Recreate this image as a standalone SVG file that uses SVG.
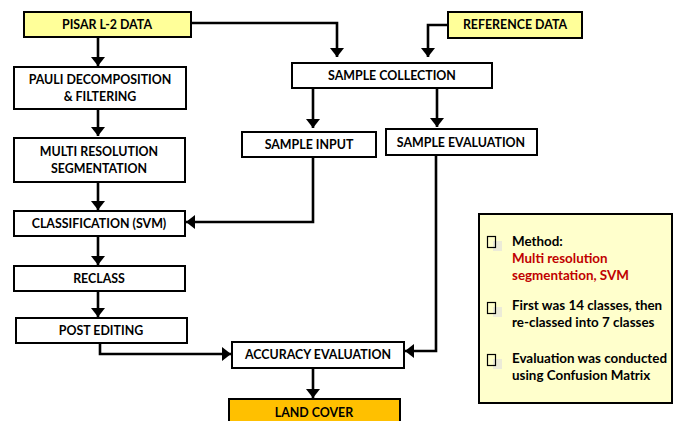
<svg xmlns="http://www.w3.org/2000/svg" width="684" height="421" viewBox="0 0 684 421">
<style>
.box{fill:#fff;stroke:#000;stroke-width:2}
.yel{fill:#ffff99}
.org{fill:#ffc000}
.t{font-family:Lato,"Liberation Sans",sans-serif;font-weight:bold;font-size:12.4px;fill:#000;text-anchor:middle}
.c{fill:none;stroke:#000;stroke-width:2.6}
.lg{font-family:Lato,"Liberation Sans",sans-serif;font-weight:bold;font-size:13.4px;fill:#000}
.red{fill:#c00000}
.bul{fill:none;stroke:#000;stroke-width:1.2}
.sh{fill:#ecebd8}
</style>
<defs>
<marker id="ah" viewBox="0 0 9 14" refX="9" refY="7" markerWidth="9" markerHeight="14" markerUnits="userSpaceOnUse" orient="auto">
<path d="M0,0 L9,7 L0,14 Z" fill="#000"/>
</marker>
</defs>
<rect width="684" height="421" fill="#fff"/>
<g id="connectors">
<path class="c" d="M98,37 V66" marker-end="url(#ah)"/>
<path class="c" d="M98,109 V136" marker-end="url(#ah)"/>
<path class="c" d="M98,182 V210" marker-end="url(#ah)"/>
<path class="c" d="M98,236 V265" marker-end="url(#ah)"/>
<path class="c" d="M98,291 V317" marker-end="url(#ah)"/>
<path class="c" d="M191,23 H337 V57" marker-end="url(#ah)"/>
<path class="c" d="M448,25 H428 V57" marker-end="url(#ah)"/>
<path class="c" d="M313,88 V128" marker-end="url(#ah)"/>
<path class="c" d="M437,88 V127" marker-end="url(#ah)"/>
<path class="c" d="M313,157 V222 H186" marker-end="url(#ah)"/>
<path class="c" d="M436,155 V351 H405" marker-end="url(#ah)"/>
<path class="c" d="M100,343 V354 H231" marker-end="url(#ah)"/>
<path class="c" d="M313,368 V398" marker-end="url(#ah)"/>
</g>
<g id="pisar"><rect class="box yel" x="24" y="12" width="167" height="25"/><text class="t" x="107" y="29">PISAR L-2 DATA</text></g>
<g id="pauli"><rect class="box" x="14" y="67" width="172" height="42"/><text class="t" x="100" y="84">PAULI DECOMPOSITION</text><text class="t" x="100" y="101">&amp; FILTERING</text></g>
<g id="multi"><rect class="box" x="14" y="138" width="171" height="44"/><text class="t" x="99" y="156">MULTI RESOLUTION</text><text class="t" x="99" y="173">SEGMENTATION</text></g>
<g id="classification"><rect class="box" x="14" y="211" width="171" height="25"/><text class="t" x="99" y="228">CLASSIFICATION (SVM)</text></g>
<g id="reclass"><rect class="box" x="14" y="266" width="171" height="25"/><text class="t" x="99" y="283">RECLASS</text></g>
<g id="postediting"><rect class="box" x="16" y="318" width="171" height="25"/><text class="t" x="101" y="335">POST EDITING</text></g>
<g id="reference"><rect class="box yel" x="448" y="12" width="134" height="26"/><text class="t" x="515" y="29">REFERENCE DATA</text></g>
<g id="samplecollection"><rect class="box" x="292" y="63" width="200" height="25"/><text class="t" x="392" y="80">SAMPLE COLLECTION</text></g>
<g id="sampleinput"><rect class="box" x="242" y="132" width="134" height="25"/><text class="t" x="309" y="149">SAMPLE INPUT</text></g>
<g id="sampleevaluation"><rect class="box" x="386" y="129" width="151" height="26"/><text class="t" x="461" y="147">SAMPLE EVALUATION</text></g>
<g id="accuracy"><rect class="box" x="232" y="342" width="172" height="26"/><text class="t" x="318" y="359">ACCURACY EVALUATION</text></g>
<g id="landcover"><rect class="box org" x="229" y="399" width="171" height="30"/><text class="t" x="314" y="417">LAND COVER</text></g>
<g id="legend">
<rect x="479" y="214" width="193" height="189" fill="#ffffcc" stroke="#000" stroke-width="2"/>
<rect class="sh" x="493" y="241" width="9" height="10"/>
<rect class="bul" x="487.5" y="236.5" width="8" height="11"/>
<rect class="sh" x="493" y="307" width="9" height="10"/>
<rect class="bul" x="487.5" y="302.5" width="8" height="11"/>
<rect class="sh" x="493" y="359" width="9" height="10"/>
<rect class="bul" x="487.5" y="354.5" width="8" height="11"/>
<text class="lg" x="512" y="246">Method:</text>
<text class="lg red" x="512" y="263">Multi resolution</text>
<text class="lg red" x="512" y="280">segmentation, SVM</text>
<text class="lg" x="512" y="310">First was 14 classes, then</text>
<text class="lg" x="512" y="327">re-classed into 7 classes</text>
<text class="lg" x="512" y="363">Evaluation was conducted</text>
<text class="lg" x="512" y="380">using Confusion Matrix</text>
</g>
</svg>
